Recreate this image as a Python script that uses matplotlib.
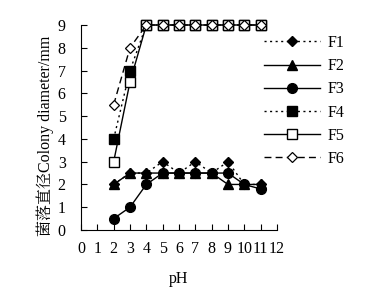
import matplotlib
matplotlib.use("Agg")
import matplotlib.pyplot as plt

plt.rcParams['font.family'] = ['Liberation Serif', 'Noto Serif CJK SC', 'Noto Sans CJK SC']
plt.rcParams['font.size'] = 11.5

ph = [2, 3, 4, 5, 6, 7, 8, 9, 10, 11]
F1 = [2, 2.5, 2.5, 3, 2.5, 3, 2.5, 3, 2, 2]
F2 = [2, 2.5, 2.5, 2.5, 2.5, 2.5, 2.5, 2, 2, 2]
F3 = [0.5, 1, 2, 2.5, 2.5, 2.5, 2.5, 2.5, 2, 1.8]
F4 = [4, 7, 9, 9, 9, 9, 9, 9, 9, 9]
F5 = [3, 6.5, 9, 9, 9, 9, 9, 9, 9, 9]
F6 = [5.5, 8, 9, 9, 9, 9, 9, 9, 9, 9]
labels = ["F1", "F2", "F3", "F4", "F5", "F6"]

fig = plt.figure(figsize=(3.66, 2.95), dpi=100)
ax = fig.add_axes([81 / 366, 1 - 230 / 295, 196 / 366, 205 / 295])

styles = [
    dict(ls=(0, (1.5, 2.5)), marker='D', mfc='black', mec='black', ms=5.5),
    dict(ls='-', marker='^', mfc='black', mec='black', ms=7),
    dict(ls='-', marker='o', mfc='black', mec='black', ms=7),
    dict(ls=(0, (1.5, 2.5)), marker='s', mfc='black', mec='black', ms=7),
    dict(ls='-', marker='s', mfc='white', mec='black', ms=7),
    dict(ls=(0, (5, 3)), marker='D', mfc='white', mec='black', ms=5, mew=0.9),
]
series = [F1, F2, F3, F4, F5, F6]
for y, st, lab in zip(series, styles, labels):
    ax.plot(ph, y, color='black', lw=1.0, label=lab, clip_on=False, **st)

ax.set_xlim(0, 12)
ax.set_ylim(0, 9)
ax.set_xticks(range(0, 13))
ax.set_yticks(range(0, 10))
ax.tick_params(direction='in', length=4, width=0.8, labelsize=11.5)
ax.tick_params(axis='y', pad=11)
ax.tick_params(axis='x', pad=8)
for s in ['top', 'right']:
    ax.spines[s].set_visible(False)
ax.set_xlabel('pH', fontsize=11.5)
ax.xaxis.set_label_coords(0.5, -0.2)
ax.set_ylabel('菌落直径Colony diameter/mm', fontsize=11.5)
ax.yaxis.set_label_coords(-0.14, 0.46)

fig.legend(loc='upper left', bbox_to_anchor=(264 / 366, 1 - 35 / 295),
           bbox_transform=fig.transFigure, frameon=False,
           handlelength=3.5, fontsize=11.5, labelspacing=0.45, handletextpad=0.5,
           borderaxespad=0, borderpad=0)

fig.savefig('out.png', dpi=100)
